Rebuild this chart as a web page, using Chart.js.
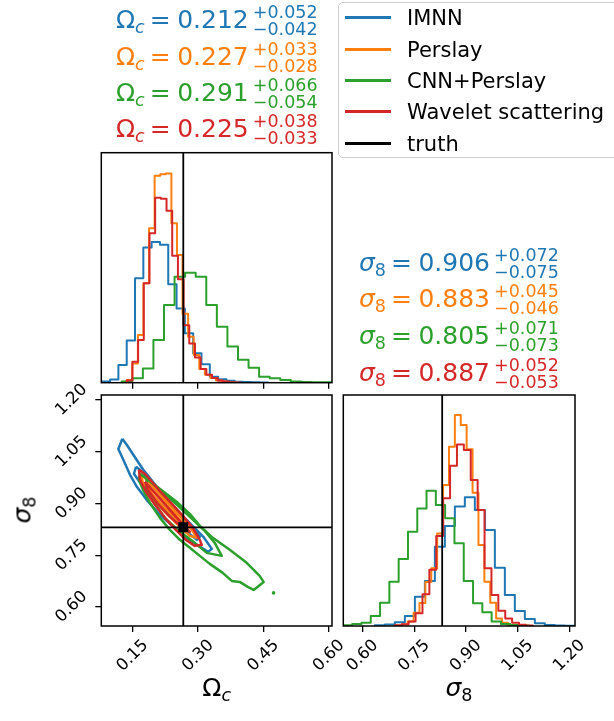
<!DOCTYPE html>
<html lang="en">
<head>
<meta charset="UTF-8">
<title>Corner plot</title>
<script src="https://cdn.jsdelivr.net/npm/chart.js"></script>
<style>
  body { margin: 0; background: #fff; font-family: "DejaVu Sans", sans-serif; }
  #wrap { position: relative; width: 614px; height: 721px; overflow: hidden; }
  #wrap canvas { position: absolute; left: 0; top: 0; }
  .ann { position: absolute; font-size: 25px; line-height: 1; white-space: nowrap; }
  .ann sub { font-size: 17.5px; vertical-align: -5px; line-height: 0; }
  .ann i { font-style: italic; }
  .eq { margin: 0 6.5px 0 5px; }
  .pm { position: relative; display: inline-block; width: 0; height: 0; }
  .pm span { position: absolute; left: 4px; font-size: 17.5px; line-height: 1; }
  .pm .up { top: -24px; }
  .pm .dn { top: -7px; }
  #legend { position: absolute; left: 338px; top: 2px; width: 300px; height: 156px;
            border: 1px solid #cfcfcf; border-radius: 5px; background: rgba(255,255,255,0.8); box-sizing: border-box; }
  .lrow { position: absolute; left: 339px; font-size: 21px; line-height: 31px; height: 31px; white-space: nowrap; }
  .lrow .ln { position: absolute; left: 6px; top: 13px; width: 46px; height: 3px; }
  .lrow .tx { position: absolute; left: 68px; top: 0; }
  .axl { position: absolute; font-size: 25px; line-height: 1; white-space: nowrap; }
  .axl sub { font-size: 17.5px; vertical-align: -5px; line-height: 0; }
</style>
</head>
<body>
<div id="wrap">
  <canvas id="omHist" width="614" height="721"></canvas>
  <canvas id="joint" width="614" height="721"></canvas>
  <canvas id="s8Hist" width="614" height="721"></canvas>

  <div class="ann" style="left:116px; top:7px; color:#1f77b4">Ω<sub><i>c</i></sub><span class="eq">=</span>0.212<span class="pm"><span class="up">+0.052</span><span class="dn">−0.042</span></span></div>
  <div class="ann" style="left:116px; top:43.7px; color:#ff7f0e">Ω<sub><i>c</i></sub><span class="eq">=</span>0.227<span class="pm"><span class="up">+0.033</span><span class="dn">−0.028</span></span></div>
  <div class="ann" style="left:116px; top:80.4px; color:#2ca02c">Ω<sub><i>c</i></sub><span class="eq">=</span>0.291<span class="pm"><span class="up">+0.066</span><span class="dn">−0.054</span></span></div>
  <div class="ann" style="left:116px; top:116.4px; color:#d62728">Ω<sub><i>c</i></sub><span class="eq">=</span>0.225<span class="pm"><span class="up">+0.038</span><span class="dn">−0.033</span></span></div>

  <div class="ann" style="left:359px; top:249.7px; color:#1f77b4"><i>σ</i><sub>8</sub><span class="eq">=</span>0.906<span class="pm"><span class="up">+0.072</span><span class="dn">−0.075</span></span></div>
  <div class="ann" style="left:359px; top:286.4px; color:#ff7f0e"><i>σ</i><sub>8</sub><span class="eq">=</span>0.883<span class="pm"><span class="up">+0.045</span><span class="dn">−0.046</span></span></div>
  <div class="ann" style="left:359px; top:323px; color:#2ca02c"><i>σ</i><sub>8</sub><span class="eq">=</span>0.805<span class="pm"><span class="up">+0.071</span><span class="dn">−0.073</span></span></div>
  <div class="ann" style="left:359px; top:359.7px; color:#d62728"><i>σ</i><sub>8</sub><span class="eq">=</span>0.887<span class="pm"><span class="up">+0.052</span><span class="dn">−0.053</span></span></div>

  <div id="legend"></div>
  <div class="lrow" style="top:3px"><span class="ln" style="background:#1f77b4"></span><span class="tx">IMNN</span></div>
  <div class="lrow" style="top:35px"><span class="ln" style="background:#ff7f0e"></span><span class="tx">Perslay</span></div>
  <div class="lrow" style="top:66px"><span class="ln" style="background:#2ca02c"></span><span class="tx">CNN+Perslay</span></div>
  <div class="lrow" style="top:97px"><span class="ln" style="background:#d62728"></span><span class="tx">Wavelet scattering</span></div>
  <div class="lrow" style="top:129px"><span class="ln" style="background:#000"></span><span class="tx">truth</span></div>

  <div class="axl" style="left:216.7px; top:675px; transform:translateX(-50%)">Ω<sub><i>c</i></sub></div>
  <div class="axl" style="left:459px; top:675px; transform:translateX(-50%)"><i>σ</i><sub>8</sub></div>
  <div class="axl" style="left:22px; top:510px; transform:translate(-50%,-50%) rotate(-90deg)"><i>σ</i><sub>8</sub></div>
</div>

<script>
  // truth values
  const truthOm = 0.266;
  const truthS8 = 0.831;

  // Omega_c histograms: bin edges and heights (fraction of the panel height)
  const omEdgesIMNN = [0.0791, 0.0982, 0.1172, 0.1363, 0.1553, 0.1744, 0.1934, 0.2125, 0.2315, 0.2506, 0.2696, 0.2887, 0.3077, 0.3268, 0.3458, 0.3649, 0.3839, 0.4030, 0.4220, 0.4411, 0.4601];
  const omHistIMNN = [0.005, 0.014, 0.077, 0.184, 0.454, 0.588, 0.612, 0.600, 0.428, 0.323, 0.215, 0.128, 0.080, 0.026, 0.015, 0.008, 0.004, 0.003, 0.002, 0.001];
  const omEdgesPerslay = [0.1363, 0.1491, 0.1619, 0.1747, 0.1875, 0.2003, 0.2131, 0.2259, 0.2387, 0.2515, 0.2643, 0.2771, 0.2899, 0.3027, 0.3155, 0.3283, 0.3411, 0.3539, 0.3667, 0.3795, 0.3923];
  const omHistPerslay = [0.012, 0.084, 0.207, 0.432, 0.671, 0.900, 0.906, 0.910, 0.693, 0.555, 0.300, 0.200, 0.120, 0.060, 0.035, 0.020, 0.010, 0.005, 0.002, 0.001];
  const omEdgesCNN = [0.1248, 0.1490, 0.1733, 0.1975, 0.2218, 0.2460, 0.2702, 0.2945, 0.3187, 0.3430, 0.3672, 0.3914, 0.4157, 0.4399, 0.4642, 0.4884, 0.5126, 0.5369, 0.5611, 0.5854, 0.6096];
  const omHistCNN = [0.005, 0.019, 0.062, 0.186, 0.338, 0.461, 0.478, 0.461, 0.338, 0.243, 0.157, 0.100, 0.065, 0.026, 0.019, 0.012, 0.005, 0.003, 0.002, 0.002];
  const omEdgesWavelet = [0.1363, 0.1493, 0.1624, 0.1754, 0.1885, 0.2015, 0.2145, 0.2276, 0.2406, 0.2537, 0.2667, 0.2797, 0.2928, 0.3058, 0.3189, 0.3319, 0.3449, 0.3580, 0.3710, 0.3841, 0.3971];
  const omHistWavelet = [0.010, 0.091, 0.186, 0.432, 0.650, 0.804, 0.800, 0.748, 0.552, 0.450, 0.250, 0.170, 0.110, 0.060, 0.035, 0.020, 0.010, 0.005, 0.002, 0.001];

  // sigma_8 histograms
  const s8EdgesIMNN = [0.6357, 0.6647, 0.6937, 0.7227, 0.7518, 0.7808, 0.8098, 0.8388, 0.8678, 0.8968, 0.9258, 0.9549, 0.9839, 1.0129, 1.0419, 1.0709, 1.0999, 1.1289, 1.1580, 1.1870, 1.2160];
  const s8HistIMNN = [0.003, 0.007, 0.016, 0.043, 0.127, 0.195, 0.343, 0.433, 0.517, 0.557, 0.502, 0.416, 0.252, 0.134, 0.065, 0.030, 0.012, 0.004, 0.002, 0.001];
  const s8EdgesPerslay = [0.6966, 0.7137, 0.7308, 0.7480, 0.7651, 0.7822, 0.7993, 0.8164, 0.8336, 0.8507, 0.8678, 0.8849, 0.9020, 0.9192, 0.9363, 0.9534, 0.9705, 0.9876, 1.0048, 1.0219, 1.0390];
  const s8HistPerslay = [0.002, 0.006, 0.020, 0.057, 0.100, 0.190, 0.250, 0.400, 0.610, 0.776, 0.913, 0.870, 0.765, 0.577, 0.351, 0.192, 0.101, 0.033, 0.014, 0.004];
  const s8EdgesCNN = [0.5428, 0.5698, 0.5968, 0.6237, 0.6507, 0.6777, 0.7047, 0.7317, 0.7587, 0.7856, 0.8126, 0.8396, 0.8666, 0.8936, 0.9206, 0.9475, 0.9745, 1.0015, 1.0285, 1.0555, 1.0824];
  const s8HistCNN = [0.003, 0.009, 0.014, 0.043, 0.101, 0.192, 0.290, 0.408, 0.509, 0.586, 0.524, 0.466, 0.358, 0.195, 0.098, 0.059, 0.019, 0.009, 0.004, 0.002];
  const s8EdgesWavelet = [0.6937, 0.7137, 0.7337, 0.7538, 0.7738, 0.7938, 0.8138, 0.8338, 0.8539, 0.8739, 0.8939, 0.9139, 0.9339, 0.9540, 0.9740, 0.9940, 1.0140, 1.0340, 1.0541, 1.0741, 1.0941];
  const s8HistWavelet = [0.003, 0.008, 0.019, 0.055, 0.137, 0.243, 0.390, 0.553, 0.694, 0.786, 0.762, 0.632, 0.502, 0.250, 0.134, 0.066, 0.033, 0.014, 0.005, 0.002];

  // 2D contours (Omega_c, sigma_8), outer and inner levels
  const imnnOuterOm = [0.1262, 0.1171, 0.1285, 0.1438, 0.1591, 0.1820, 0.2124, 0.2429, 0.2735, 0.3039, 0.3229, 0.3314, 0.3115, 0.2810, 0.2582, 0.2353, 0.2049, 0.1742, 0.1514, 0.1363];
  const imnnOuterS8 = [1.0877, 1.0578, 1.0268, 0.9833, 0.9493, 0.9107, 0.8672, 0.8333, 0.7996, 0.7752, 0.7599, 0.7686, 0.8043, 0.8431, 0.8721, 0.9058, 0.9493, 0.9978, 1.0413, 1.0703];
  const imnnInnerOm = [0.1575, 0.1530, 0.1781, 0.2239, 0.2696, 0.2970, 0.3039, 0.2765, 0.2353, 0.1896, 0.1667];
  const imnnInnerS8 = [1.0065, 0.9862, 0.9397, 0.8817, 0.8237, 0.7947, 0.8034, 0.8469, 0.9020, 0.9630, 0.9978];
  const perslayOuterOm = [0.1690, 0.1896, 0.2239, 0.2582, 0.2856, 0.2970, 0.2810, 0.2536, 0.2193, 0.1896, 0.1736];
  const perslayOuterS8 = [0.9862, 0.9572, 0.9107, 0.8643, 0.8237, 0.8005, 0.8063, 0.8382, 0.8817, 0.9252, 0.9572];
  const perslayInnerOm = [0.1850, 0.2124, 0.2467, 0.2696, 0.2536, 0.2239, 0.1941];
  const perslayInnerS8 = [0.9514, 0.9165, 0.8701, 0.8353, 0.8498, 0.8875, 0.9281];
  const cnnOuterOm = [0.1667, 0.1941, 0.2239, 0.2536, 0.2810, 0.3039, 0.3336, 0.3725, 0.4114, 0.4411, 0.4503, 0.4274, 0.4137, 0.3954, 0.3771, 0.3565, 0.3268, 0.3039, 0.2810, 0.2582, 0.2353, 0.2124, 0.1896, 0.1736, 0.1644];
  const cnnOuterS8 = [0.9862, 0.9601, 0.9310, 0.9020, 0.8701, 0.8353, 0.8005, 0.7657, 0.7280, 0.6902, 0.6728, 0.6496, 0.6583, 0.6728, 0.6757, 0.6989, 0.7251, 0.7483, 0.7715, 0.7947, 0.8237, 0.8585, 0.9020, 0.9397, 0.9688];
  const cnnInnerOm = [0.1827, 0.2124, 0.2467, 0.2810, 0.3153, 0.3382, 0.3542, 0.3199, 0.2925, 0.2582, 0.2239, 0.1941, 0.1804];
  const cnnInnerS8 = [0.9746, 0.9397, 0.9020, 0.8614, 0.8208, 0.7860, 0.7483, 0.7570, 0.7860, 0.8179, 0.8585, 0.9107, 0.9455];
  const cnnIsland = [0.473, 0.641];
  const waveOuterOm = [0.1644, 0.1781, 0.2079, 0.2399, 0.2650, 0.2879, 0.3039, 0.3085, 0.2925, 0.2719, 0.2490, 0.2239, 0.2010, 0.1804, 0.1667];
  const waveOuterS8 = [0.9978, 0.9862, 0.9427, 0.8991, 0.8643, 0.8295, 0.7947, 0.7802, 0.7773, 0.7947, 0.8237, 0.8585, 0.8962, 0.9339, 0.9688];
  const waveInnerOm = [0.1781, 0.2010, 0.2353, 0.2696, 0.2810, 0.2650, 0.2353, 0.2056, 0.1850];
  const waveInnerS8 = [0.9630, 0.9310, 0.8817, 0.8324, 0.8179, 0.8295, 0.8614, 0.9020, 0.9397];

  const omRange = [0.078, 0.607];
  const s8RangeY = [0.545, 1.2145];
  const s8RangeX = [0.544, 1.2165];

  const colors = { imnn: '#1f77b4', perslay: '#ff7f0e', cnn: '#2ca02c', wave: '#d62728' };
  const W = 614, H = 721;

  function stepPoints(edges, counts) {
    const pts = [{ x: edges[0], y: 0 }];
    counts.forEach((c, i) => {
      pts.push({ x: edges[i], y: c }, { x: edges[i + 1], y: c });
    });
    pts.push({ x: edges[edges.length - 1], y: 0 });
    return pts;
  }

  function loop(xs, ys) {
    const pts = xs.map((x, i) => ({ x: x, y: ys[i] }));
    pts.push(pts[0]);
    return pts;
  }

  function line(data, color, width, order) {
    return { data: data, showLine: true, borderColor: color, borderWidth: width,
             pointRadius: 0, fill: false, borderJoinStyle: 'round', order: order };
  }

  // frame, tick labels rotated by 45 degrees
  const framePlugin = {
    id: 'frame',
    afterDraw(chart, args, opts) {
      const { ctx, chartArea: a } = chart;
      ctx.save();
      ctx.strokeStyle = '#000';
      ctx.lineWidth = 1.5;
      ctx.strokeRect(a.left, a.top, a.right - a.left, a.bottom - a.top);
      const fs = 16.5;
      const h = fs * 1.16;
      ctx.font = fs + 'px "DejaVu Sans"';
      ctx.fillStyle = '#000';
      ctx.textAlign = 'center';
      ctx.textBaseline = 'middle';
      if (opts.xLabels) {
        const sc = chart.scales.x;
        sc.ticks.forEach(t => {
          const txt = t.value.toFixed(2);
          const b = (ctx.measureText(txt).width + h) * Math.SQRT1_2;
          ctx.save();
          ctx.translate(sc.getPixelForValue(t.value), a.bottom + 10 + b / 2);
          ctx.rotate(-Math.PI / 4);
          ctx.fillText(txt, 0, 0);
          ctx.restore();
        });
      }
      if (opts.yLabels) {
        const sc = chart.scales.y;
        sc.ticks.forEach(t => {
          const txt = t.value.toFixed(2);
          const b = (ctx.measureText(txt).width + h) * Math.SQRT1_2;
          ctx.save();
          ctx.translate(a.left - 10 - b / 2, sc.getPixelForValue(t.value));
          ctx.rotate(-Math.PI / 4);
          ctx.fillText(txt, 0, 0);
          ctx.restore();
        });
      }
      ctx.restore();
    }
  };

  const tickGrid = { drawOnChartArea: false, drawTicks: true, tickLength: 6, color: '#000', lineWidth: 1.3 };

  function makeChart(id, rect, xr, yr, datasets, flags) {
    const XH = 8;
    const YW = flags.yAxis ? 8 : 0;
    const yScale = flags.yAxis
      ? { type: 'linear', min: yr[0], max: yr[1], afterFit: s => { s.width = YW; },
          ticks: { display: false, stepSize: 0.15, includeBounds: false }, grid: tickGrid, border: { display: false } }
      : { type: 'linear', display: false, min: yr[0], max: yr[1] };
    return new Chart(document.getElementById(id), {
      type: 'scatter',
      data: { datasets: datasets },
      plugins: [framePlugin],
      options: {
        responsive: false,
        animation: false,
        devicePixelRatio: 1,
        layout: { autoPadding: false,
                  padding: { left: rect[0] - YW, top: rect[1], right: W - rect[2], bottom: H - rect[3] - XH } },
        plugins: { legend: { display: false }, tooltip: { enabled: false }, frame: flags },
        scales: {
          x: { type: 'linear', min: xr[0], max: xr[1], afterFit: s => { s.height = XH; },
               ticks: { display: false, stepSize: 0.15, includeBounds: false }, grid: tickGrid, border: { display: false } },
          y: yScale
        }
      }
    });
  }

  // top-left: Omega_c marginal
  makeChart('omHist', [101.3, 152.7, 332, 382.7], omRange, [0, 1], [
    line(stepPoints(omEdgesIMNN, omHistIMNN), colors.imnn, 2, 4),
    line(stepPoints(omEdgesPerslay, omHistPerslay), colors.perslay, 2, 3),
    line(stepPoints(omEdgesCNN, omHistCNN), colors.cnn, 2, 2),
    line(stepPoints(omEdgesWavelet, omHistWavelet), colors.wave, 2, 1),
    line([{ x: truthOm, y: 0 }, { x: truthOm, y: 1 }], '#000', 1.8, 0)
  ], { xLabels: false, yLabels: false, yAxis: false });

  // bottom-left: joint contours
  makeChart('joint', [101.3, 395, 332, 626], omRange, s8RangeY, [
    line(loop(imnnOuterOm, imnnOuterS8), colors.imnn, 2.5, 8),
    line(loop(imnnInnerOm, imnnInnerS8), colors.imnn, 2.5, 8),
    line(loop(perslayOuterOm, perslayOuterS8), colors.perslay, 2.5, 7),
    line(loop(perslayInnerOm, perslayInnerS8), colors.perslay, 2.5, 7),
    line(loop(cnnOuterOm, cnnOuterS8), colors.cnn, 2.5, 6),
    line(loop(cnnInnerOm, cnnInnerS8), colors.cnn, 2.5, 6),
    { data: [{ x: cnnIsland[0], y: cnnIsland[1] }], pointRadius: 1.8, backgroundColor: colors.cnn, borderWidth: 0, order: 6 },
    line(loop(waveOuterOm, waveOuterS8), colors.wave, 2.5, 5),
    line(loop(waveInnerOm, waveInnerS8), colors.wave, 2.5, 5),
    line([{ x: truthOm, y: s8RangeY[0] }, { x: truthOm, y: s8RangeY[1] }], '#000', 1.8, 1),
    line([{ x: omRange[0], y: truthS8 }, { x: omRange[1], y: truthS8 }], '#000', 1.8, 1),
    { data: [{ x: truthOm, y: truthS8 }], pointStyle: 'rect', pointRadius: 7, backgroundColor: '#000', borderColor: '#000', borderWidth: 0, order: 0 }
  ], { xLabels: true, yLabels: true, yAxis: true });

  // bottom-right: sigma_8 marginal
  makeChart('s8Hist', [343.3, 395, 575, 626], s8RangeX, [0, 1], [
    line(stepPoints(s8EdgesIMNN, s8HistIMNN), colors.imnn, 2, 4),
    line(stepPoints(s8EdgesPerslay, s8HistPerslay), colors.perslay, 2, 3),
    line(stepPoints(s8EdgesCNN, s8HistCNN), colors.cnn, 2, 2),
    line(stepPoints(s8EdgesWavelet, s8HistWavelet), colors.wave, 2, 1),
    line([{ x: truthS8, y: 0 }, { x: truthS8, y: 1 }], '#000', 1.8, 0)
  ], { xLabels: true, yLabels: false, yAxis: false });
</script>
</body>
</html>
